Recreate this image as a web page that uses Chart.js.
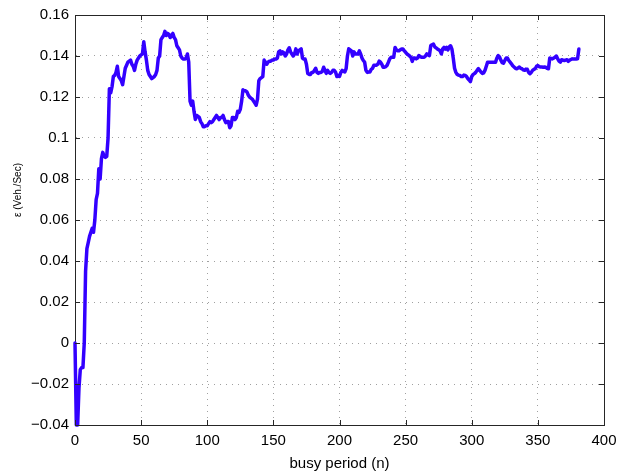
<!DOCTYPE html>
<html>
<head>
<meta charset="utf-8">
<script src="https://cdn.jsdelivr.net/npm/chart.js@4"></script>
<style>
  html, body { margin: 0; padding: 0; background: #ffffff; }
  #wrap { width: 641px; height: 474px; }
</style>
</head>
<body>
<div id="wrap"><canvas id="c" width="641" height="474"></canvas></div>
<script>
// Estimated rate epsilon (Veh./Sec) after each busy period n = 0, 1, 2, ...
const epsilon = [
  0.000, -0.040, -0.040, -0.022, -0.013, -0.012, -0.012, 0.000, 0.035, 0.046,
  0.049, 0.052, 0.054, 0.056, 0.054, 0.060, 0.070, 0.073, 0.085, 0.080,
  0.090, 0.093, 0.091, 0.0905, 0.091, 0.100, 0.124, 0.122, 0.125, 0.130,
  0.1305, 0.132, 0.135, 0.130, 0.129, 0.128, 0.126, 0.130, 0.134, 0.1355,
  0.137, 0.1375, 0.138, 0.136, 0.135, 0.133, 0.136, 0.138, 0.139, 0.140,
  0.1405, 0.141, 0.147, 0.142, 0.138, 0.133, 0.131, 0.130, 0.129, 0.1295,
  0.130, 0.131, 0.133, 0.139, 0.140, 0.148, 0.149, 0.150, 0.152, 0.150,
  0.151, 0.1505, 0.149, 0.150, 0.151, 0.149, 0.148, 0.145, 0.144, 0.143,
  0.140, 0.139, 0.1385, 0.1385, 0.139, 0.141, 0.137, 0.118, 0.116, 0.118,
  0.113, 0.109, 0.111, 0.1105, 0.110, 0.108, 0.107, 0.1055, 0.1055, 0.106,
  0.106, 0.107, 0.108, 0.1075, 0.108, 0.109, 0.110, 0.111, 0.110, 0.109,
  0.110, 0.110, 0.111, 0.109, 0.1075, 0.108, 0.108, 0.105, 0.106, 0.110,
  0.110, 0.109, 0.110, 0.113, 0.1125, 0.114, 0.118, 0.1235, 0.123, 0.123,
  0.1225, 0.121, 0.120, 0.1195, 0.119, 0.118, 0.117, 0.116, 0.119, 0.128,
  0.129, 0.1295, 0.130, 0.138, 0.137, 0.136, 0.137, 0.1375, 0.1375, 0.138,
  0.138, 0.1385, 0.1385, 0.139, 0.142, 0.1425, 0.141, 0.142, 0.1415, 0.140,
  0.141, 0.143, 0.144, 0.142, 0.141, 0.140, 0.141, 0.1435, 0.141, 0.1425,
  0.143, 0.1435, 0.139, 0.1385, 0.1385, 0.136, 0.1315, 0.131, 0.131, 0.132,
  0.132, 0.133, 0.134, 0.132, 0.1315, 0.132, 0.132, 0.1325, 0.1345, 0.133,
  0.1315, 0.133, 0.132, 0.1315, 0.132, 0.133, 0.133, 0.1322, 0.130, 0.1305,
  0.130, 0.132, 0.133, 0.1325, 0.1322, 0.1338, 0.140, 0.1435, 0.143, 0.1425,
  0.140, 0.142, 0.141, 0.141, 0.141, 0.1425, 0.141, 0.139, 0.1378, 0.137,
  0.133, 0.132, 0.1322, 0.1322, 0.1335, 0.134, 0.1355, 0.1355, 0.1355, 0.136,
  0.1375, 0.137, 0.136, 0.1345, 0.1345, 0.1348, 0.1355, 0.137, 0.1386, 0.1394,
  0.1394, 0.1394, 0.1442, 0.143, 0.1426, 0.1426, 0.143, 0.1434, 0.1434, 0.1425,
  0.1418, 0.141, 0.1405, 0.140, 0.1394, 0.1374, 0.139, 0.139, 0.1386, 0.139,
  0.1402, 0.1398, 0.1394, 0.1394, 0.1394, 0.140, 0.141, 0.1405, 0.1402, 0.145,
  0.1455, 0.1458, 0.1445, 0.144, 0.1434, 0.143, 0.1426, 0.141, 0.1435, 0.1442,
  0.1434, 0.1442, 0.143, 0.1445, 0.145, 0.1434, 0.139, 0.134, 0.132, 0.131,
  0.1307, 0.1305, 0.130, 0.130, 0.1307, 0.1305, 0.130, 0.129, 0.1283, 0.1275,
  0.130, 0.131, 0.1314, 0.132, 0.133, 0.1338, 0.133, 0.1322, 0.1315, 0.1318,
  0.133, 0.135, 0.137, 0.137, 0.137, 0.137, 0.137, 0.137, 0.137, 0.139,
  0.1402, 0.1395, 0.138, 0.1368, 0.1365, 0.1378, 0.139, 0.139, 0.1378, 0.137,
  0.1362, 0.1352, 0.1346, 0.134, 0.1338, 0.1342, 0.1346, 0.134, 0.1338, 0.1332,
  0.133, 0.1336, 0.1335, 0.132, 0.1314, 0.132, 0.133, 0.1335, 0.1338, 0.135,
  0.1354, 0.1348, 0.1346, 0.1346, 0.1345, 0.1346, 0.1345, 0.134, 0.1338, 0.139,
  0.1388, 0.1386, 0.139, 0.1395, 0.140, 0.1386, 0.1375, 0.137, 0.1382, 0.138,
  0.1378, 0.138, 0.1382, 0.1374, 0.138, 0.1383, 0.1386, 0.1385, 0.1386, 0.1385,
  0.1386, 0.1434
];

// busy period index for each estimate
const busyPeriod = epsilon.map((_, i) => i);

const xTicks = [0, 50, 100, 150, 200, 250, 300, 350, 400];
const yTicks = [-0.04, -0.02, 0, 0.02, 0.04, 0.06, 0.08, 0.1, 0.12, 0.14, 0.16];

const points = busyPeriod.map((n, i) => ({ x: n, y: epsilon[i] }));

const FONT = "'Liberation Sans', Arial, Helvetica, sans-serif";

function fmt(v) {
  const s = String(Number(v.toFixed(2)));
  return s.replace('-', '\u2212');
}

// Inward tick marks on all four sides, plus the rotated y-axis caption
const matlabAxes = {
  id: 'matlabAxes',
  afterDraw(chart) {
    const { ctx, chartArea: a, scales: { x, y } } = chart;
    ctx.save();
    ctx.strokeStyle = '#262626';
    ctx.lineWidth = 1;
    ctx.beginPath();
    xTicks.forEach(v => {
      const px = Math.round(x.getPixelForValue(v)) + 0.5;
      ctx.moveTo(px, a.bottom); ctx.lineTo(px, a.bottom - 5);
      ctx.moveTo(px, a.top); ctx.lineTo(px, a.top + 5);
    });
    yTicks.forEach(v => {
      const py = Math.round(y.getPixelForValue(v)) + 0.5;
      ctx.moveTo(a.left, py); ctx.lineTo(a.left + 5, py);
      ctx.moveTo(a.right, py); ctx.lineTo(a.right - 5, py);
    });
    ctx.stroke();

    ctx.translate(18, 190);
    ctx.rotate(-Math.PI / 2);
    ctx.fillStyle = '#000';
    ctx.textAlign = 'center';
    ctx.textBaseline = 'middle';
    ctx.font = '10px ' + FONT;
    ctx.fillText('\u03b5 (Veh./Sec)', 0, 0);
    ctx.restore();
  }
};

new Chart(document.getElementById('c'), {
  type: 'line',
  data: {
    datasets: [{
      data: points,
      borderColor: '#3300ff',
      borderWidth: 3.5,
      borderJoinStyle: 'round',
      borderCapStyle: 'round',
      pointRadius: 0,
      tension: 0,
      fill: false,
      clip: 4
    }]
  },
  options: {
    responsive: false,
    animation: false,
    devicePixelRatio: 1,
    layout: { padding: { top: 7, right: 37, left: 0, bottom: 0 } },
    plugins: { legend: { display: false }, tooltip: { enabled: false } },
    scales: {
      x: {
        type: 'linear',
        min: 0, max: 400,
        afterBuildTicks(s) { s.ticks = xTicks.map(v => ({ value: v })); },
        afterFit(s) { s.height = 49; },
        grid: {
          color: '#a0a0a0',
          lineWidth: 1,
          drawTicks: false
        },
        border: { display: true, color: '#262626', width: 1, dash: [1, 5] },
        ticks: {
          color: '#000',
          font: { family: FONT, size: 15 },
          padding: 7,
          maxRotation: 0,
          callback: v => fmt(v)
        },
        title: {
          display: true,
          text: 'busy period (n)',
          color: '#000',
          font: { family: FONT, size: 15 },
          padding: { top: 0, bottom: 1 }
        }
      },
      y: {
        type: 'linear',
        min: -0.04, max: 0.16,
        afterBuildTicks(s) { s.ticks = yTicks.map(v => ({ value: v })); },
        afterFit(s) { s.width = 75; },
        grid: {
          color: '#a0a0a0',
          lineWidth: 1,
          drawTicks: false
        },
        border: { display: true, color: '#262626', width: 1, dash: [1, 5] },
        ticks: {
          color: '#000',
          font: { family: FONT, size: 15 },
          padding: 6,
          callback: v => fmt(v)
        }
      }
    }
  },
  plugins: [{
    id: 'frame',
    beforeDatasetsDraw(chart) {
      const { ctx, chartArea: a } = chart;
      ctx.save();
      ctx.strokeStyle = '#262626';
      ctx.lineWidth = 1;
      ctx.strokeRect(Math.round(a.left) + 0.5, Math.round(a.top) + 0.5,
        Math.round(a.right - a.left), Math.round(a.bottom - a.top));
      ctx.restore();
    }
  }, matlabAxes]
});
</script>
</body>
</html>
